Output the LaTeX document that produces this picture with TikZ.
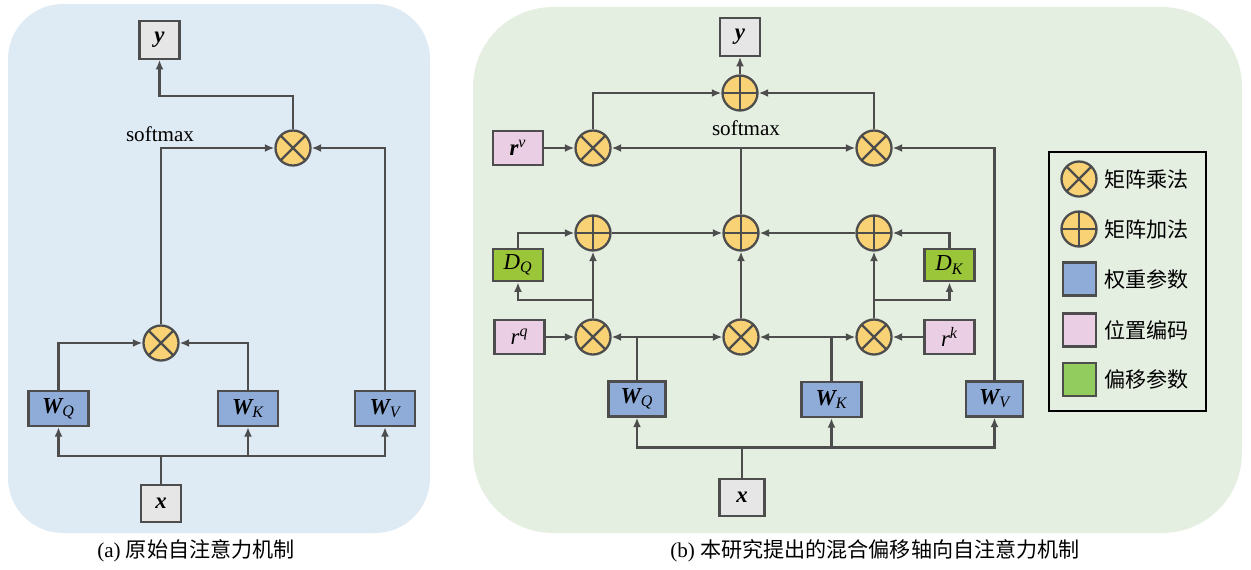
\documentclass[tikz,border=0pt]{standalone}
\usepackage{fontspec}
\setmainfont{Liberation Serif}
\newfontfamily\cjk{Noto Sans CJK SC}
\usetikzlibrary{arrows.meta}
\definecolor{linegray}{RGB}{77,77,77}
\definecolor{bgblue}{RGB}{222,234,244}
\definecolor{bggreen}{RGB}{229,239,225}
\definecolor{opyellow}{RGB}{248,210,117}
\definecolor{wblue}{RGB}{143,172,216}
\definecolor{rpink}{RGB}{234,206,228}
\definecolor{dgreen}{RGB}{156,198,58}
\definecolor{lgreen}{RGB}{146,204,94}
\definecolor{iogray}{RGB}{230,230,230}

\begin{document}
\begin{tikzpicture}
  [x = .2mm, y = -.2mm, line width = 1.2pt,
   arr/.style = {draw = linegray, -{Latex[length=1.9mm,width=1.6mm]}},
   ln/.style = {draw = linegray},
   op/.style = {circle, draw = linegray, fill = opyellow, line width = 1.3pt,
     minimum size = 7mm, inner sep = 0pt},
   mul/.style = {op, path picture = {\draw[linegray, line width = 1.3pt]
     (path picture bounding box.south west) -- (path picture bounding box.north east)
     (path picture bounding box.north west) -- (path picture bounding box.south east);}},
   add/.style = {op, path picture = {\draw[linegray, line width = 1.3pt]
     (path picture bounding box.north) -- (path picture bounding box.south)
     (path picture bounding box.west) -- (path picture bounding box.east);}},
   blk/.style = {draw = linegray, line width = 1.3pt, inner sep = 0pt,
     font = \fontsize{13}{15}\selectfont},
   io/.style = {blk, fill = iogray, minimum width = 8mm, minimum height = 7.5mm},
   wbox/.style = {blk, fill = wblue, minimum width = 12mm, minimum height = 7mm},
   rbox/.style = {blk, fill = rpink, minimum width = 10mm, minimum height = 6.7mm},
   dbox/.style = {blk, fill = dgreen, minimum width = 10mm, minimum height = 6.5mm}]
  \useasboundingbox (0,0) rectangle (1251,569);
  \fill[bgblue, rounded corners = 11mm] (8,4) rectangle (430,533);
  \fill[bggreen, rounded corners = 16mm] (473,7) rectangle (1242,533);

  \node[io] (ya) at (159.5,40) {\bfseries\itshape y};
  \node[mul] (mta) at (293,148) {};
  \node[mul] (mba) at (161,343) {};
  \node[wbox] (wqa) at (58.5,408.5) {{\bfseries\itshape W}\textsubscript{\itshape Q}};
  \node[wbox] (wka) at (248,408.5) {{\bfseries\itshape W}\textsubscript{\itshape K}};
  \node[wbox] (wva) at (385,408.5) {{\bfseries\itshape W}\textsubscript{\itshape V}};
  \node[io] (xa) at (161,503.5) {\bfseries\itshape x};
  \node[font = \fontsize{12}{14}\selectfont] (sma) at (160,134) {softmax};
  \coordinate (ta) at (159.5,96);
  \coordinate (ba) at (161,456);
  \draw[arr] (mta.north) |- (ta) -- (ya.south);
  \draw[arr] (mba.north) |- (mta.west);
  \draw[arr] (wva.north) |- (mta.east);
  \draw[arr] (wqa.north) |- (mba.west);
  \draw[arr] (wka.north) |- (mba.east);
  \draw[ln] (xa.north) -- (ba);
  \foreach \n in {wqa,wka,wva}
    \draw[arr] (ba) -| (\n.south);

  \node[io] (yb) at (740,37) {\bfseries\itshape y};
  \node[add] (adt) at (740,93) {};
  \node[mul] (mlv) at (593,148) {};
  \node[mul] (mlo) at (874,148) {};
  \node[rbox] (rv) at (518,148) {{\bfseries\itshape r}\textsuperscript{\itshape v}};
  \node[font = \fontsize{12}{14}\selectfont] (smb) at (746,128) {softmax};
  \node[add] (adq) at (593,233) {};
  \node[add] (adm) at (741,233) {};
  \node[add] (adk) at (874,233) {};
  \node[dbox] (dq) at (518,265) {\itshape D\textsubscript{Q}};
  \node[dbox] (dk) at (949.5,265) {\itshape D\textsubscript{K}};
  \node[mul] (mlq) at (593,337) {};
  \node[mul] (mlm) at (741,337) {};
  \node[mul] (mlk) at (874,337) {};
  \node[rbox] (rq) at (519.5,337) {\itshape r\textsuperscript{q}};
  \node[rbox] (rk) at (949.5,337) {\itshape r\textsuperscript{k}};
  \node[wbox, minimum width = 11.4mm] (wqb) at (637,399) {{\bfseries\itshape W}\textsubscript{\itshape Q}};
  \node[wbox] (wkb) at (831.5,399.5) {{\bfseries\itshape W}\textsubscript{\itshape K}};
  \node[wbox, minimum width = 11.4mm] (wvb) at (994.5,399) {{\bfseries\itshape W}\textsubscript{\itshape V}};
  \node[io, minimum width = 9mm] (xb) at (742,497.5) {\bfseries\itshape x};
  \coordinate (jm) at (741,148);
  \coordinate (jq) at (593,300);
  \coordinate (jk) at (874,300);
  \coordinate (bb) at (742,447.5);
  \draw[arr] (adt.north) -- (yb.south);
  \draw[arr] (mlv.north) |- (adt.west);
  \draw[arr] (mlo.north) |- (adt.east);
  \draw[arr] (rv.east) -- (mlv.west);
  \draw[ln] (adm.north) -- (jm);
  \draw[arr] (jm) -- (mlv.east);
  \draw[arr] (jm) -- (mlo.west);
  \draw[arr] (wvb.north) |- (mlo.east);
  \draw[arr] (dq.north) |- (adq.west);
  \draw[arr] (dk.north) |- (adk.east);
  \draw[arr] (adq.east) -- (adm.west);
  \draw[arr] (adk.west) -- (adm.east);
  \draw[arr] (mlq.north) -- (adq.south);
  \draw[arr] (mlm.north) -- (adm.south);
  \draw[arr] (mlk.north) -- (adk.south);
  \draw[arr] (jq) -| (dq.south);
  \draw[arr] (jk) -| (dk.south);
  \draw[arr] (rq.east) -- (mlq.west);
  \draw[arr] (rk.west) -- (mlk.east);
  \draw[arr] (wqb.north) |- (mlq.east);
  \draw[arr] (wqb.north) |- (mlm.west);
  \draw[arr] (wkb.north) |- (mlm.east);
  \draw[arr] (wkb.north) |- (mlk.west);
  \draw[ln] (xb.north) -- (bb);
  \foreach \n in {wqb,wkb,wvb}
    \draw[arr] (bb) -| (\n.south);

  \draw[line width = .8pt] (1049,152) rectangle (1206,411);
  \node[mul] (lgm) at (1079,179) {};
  \node[add] (lga) at (1079,229) {};
  \foreach \c/\y/\n in {wblue/279/lgw, rpink/330/lgr, lgreen/379.5/lgd}
    \node[blk, fill = \c, minimum size = 6.6mm] (\n) at (1079.5,\y) {};
  \foreach \n/\t in {lgm/矩阵乘法, lga/矩阵加法, lgw/权重参数, lgr/位置编码, lgd/偏移参数}
    \node[anchor = west, font = \cjk\fontsize{12}{14}\selectfont, inner sep = 0pt]
      at ([xshift = 1.2mm] \n.east |- \n.center) {\t};

  \node[font = \fontsize{12}{14}\selectfont] (cpa) at (196,551) {(a) {\cjk 原始自注意力机制}};
  \node[font = \fontsize{12}{14}\selectfont] (cpb) at (875,551) {(b) {\cjk 本研究提出的混合偏移轴向自注意力机制}};
\end{tikzpicture}
\end{document}
